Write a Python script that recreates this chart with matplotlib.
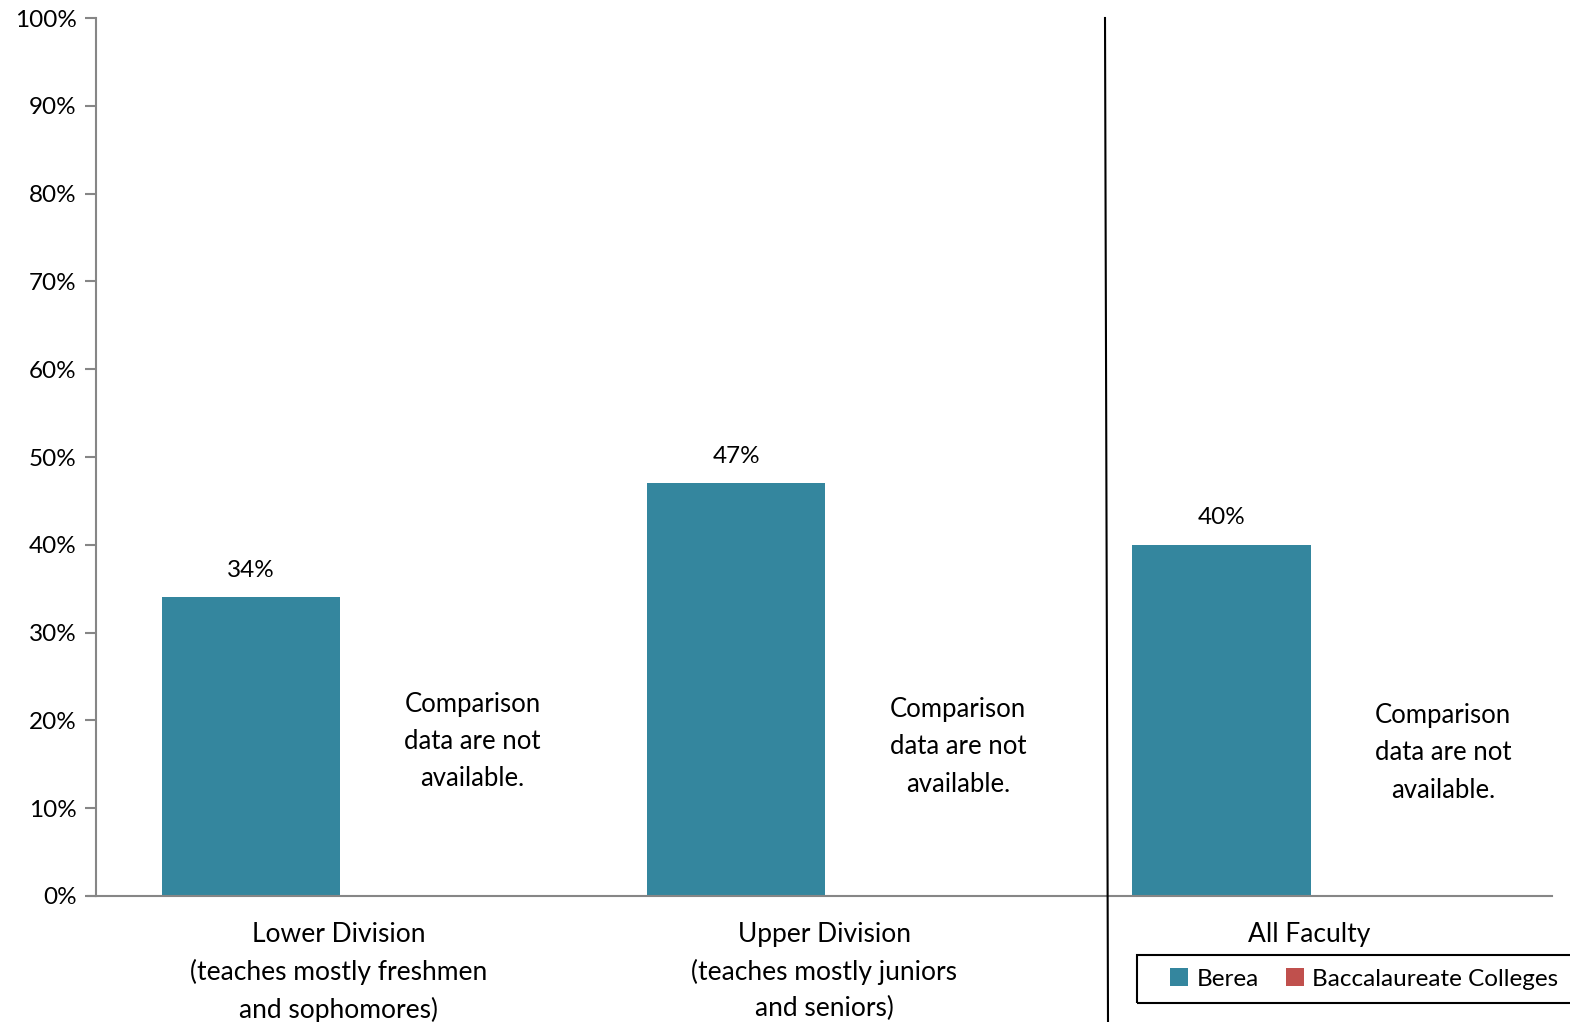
import matplotlib.pyplot as plt
from matplotlib.patches import Patch, Rectangle
from matplotlib.lines import Line2D
import numpy as np

plt.rcParams['font.family'] = ['Lato', 'DejaVu Sans']

groups = ['Lower Division\n(teaches mostly freshmen\nand sophomores)',
          'Upper Division\n(teaches mostly juniors\nand seniors)',
          'All Faculty']
berea = [34, 47, 40]
note = 'Comparison\ndata are not\navailable.'
note_y = [17.6, 17.0, 16.3]
series = ['Berea', 'Baccalaureate Colleges']
colors = ['#34869E', '#C0504D']
yticks = [0, 10, 20, 30, 40, 50, 60, 70, 80, 90, 100]

W, H = 1570, 1022
fig = plt.figure(figsize=(W/100, H/100), dpi=100)
ax = fig.add_axes([96/W, 1-896/H, (1552-96)/W, (896-18)/H])

x = np.arange(len(groups))
bw = 0.367
ax.bar(x - 0.181, berea, width=bw, color=colors[0])
for xi, v in zip(x, berea):
	ax.text(xi - 0.181, v + 1.9, "{}%".format(v), ha='center', va='bottom', fontsize=17.5)
for xi, ny in zip(x, note_y):
	ax.text(xi + 0.276, ny, note, ha='center', va='center', fontsize=18.5, linespacing=1.62)

ax.set_xlim(-0.5, 2.5)
ax.set_ylim(0, 100)
ax.set_yticks(yticks)
ax.set_yticklabels(["{}%".format(t) for t in yticks], fontsize=17.5)
ax.set_xticks(x)
ax.set_xticklabels(groups, fontsize=19, linespacing=1.55)
ax.tick_params(axis='x', length=0, pad=19)
ax.tick_params(axis='y', length=8, width=1.5, color='#868686', pad=6)
for s in ('top', 'right'):
	ax.spines[s].set_visible(False)
for s in ('left', 'bottom'):
	ax.spines[s].set_color('#868686')
	ax.spines[s].set_linewidth(1.5)
# extend the baseline to the 0% tick
ax.plot([-0.5 - 8/485.3, -0.5], [0, 0], color='#868686', lw=1.5, clip_on=False)

# divider before the "All Faculty" group
fig.add_artist(Line2D([1105/W, 1108/W], [1-18/H, 0], color='black', lw=1.5))

# legend box runs off the right edge
fig.add_artist(Rectangle((1137/W, 1-1003/H), 450/W, 48/H, facecolor='none',
	edgecolor='black', lw=1.5, transform=fig.transFigure))
handles = [Patch(facecolor=c, edgecolor='none') for c in colors]
leg = fig.legend(handles, series, loc='center left', bbox_to_anchor=(1170/W, 1-979/H),
	ncol=2, fontsize=17.5, frameon=False, handlelength=0.75, handleheight=0.75,
	handletextpad=0.35, columnspacing=1.1, borderpad=0, borderaxespad=0)

fig.savefig('out.png', dpi=100)
